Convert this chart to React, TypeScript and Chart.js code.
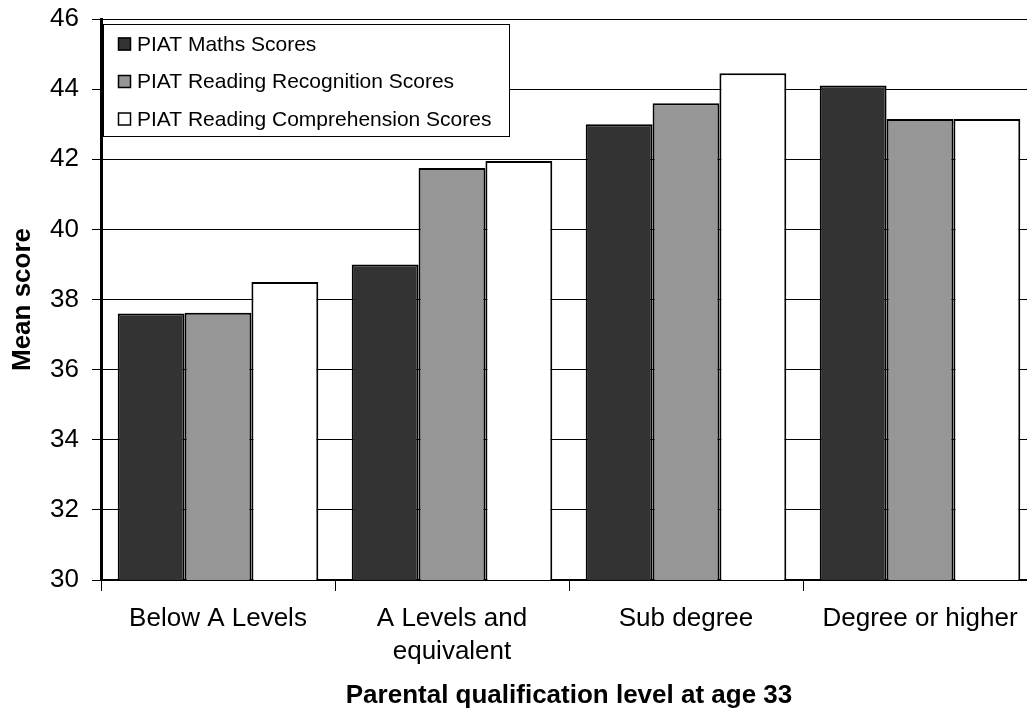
import React, { useEffect, useRef } from "react";
import { Chart, registerables } from "chart.js";

Chart.register(...registerables);

const categories: (string | string[])[] = [
  "Below A Levels",
  ["A Levels and", "equivalent"],
  "Sub degree",
  "Degree or higher",
];
const seriesNames = [
  "PIAT Maths Scores",
  "PIAT Reading Recognition Scores",
  "PIAT Reading Comprehension Scores",
];
const mathsScores = [37.6, 39.0, 43.0, 44.1];
const recognitionScores = [37.62, 41.75, 43.6, 43.15];
const comprehensionScores = [38.5, 41.95, 44.45, 43.15];
const seriesColors = ["#333333", "#969696", "#ffffff"];
const yMin = 30;
const yMax = 46;
const yStep = 2;

const FONT = "'Liberation Sans', Arial, sans-serif";

const insideLegend = {
  id: "insideLegend",
  afterDraw(chart: any) {
    const ctx = chart.ctx;
    const x0 = 103.5, y0 = 24.5, w = 406, h = 112;
    ctx.save();
    ctx.fillStyle = "#ffffff";
    ctx.fillRect(x0, y0, w, h);
    ctx.strokeStyle = "#000000";
    ctx.lineWidth = 1;
    ctx.strokeRect(x0, y0, w, h);
    ctx.font = `21px ${FONT}`;
    ctx.textBaseline = "middle";
    ctx.textAlign = "left";
    const rows = [44, 81.5, 119];
    chart.data.datasets.forEach((ds: any, i: number) => {
      const cy = rows[i];
      ctx.fillStyle = ds.backgroundColor;
      ctx.fillRect(118, cy - 6.5, 13, 13);
      ctx.lineWidth = 1.5;
      ctx.strokeStyle = "#000";
      ctx.strokeRect(118.5, cy - 6, 12, 12);
      ctx.fillStyle = "#000";
      ctx.fillText(ds.label, 137, cy + 1);
    });
    ctx.restore();
  },
};

export default function App() {
  const ref = useRef<HTMLCanvasElement | null>(null);
  useEffect(() => {
    if (!ref.current) return;
    const values = [mathsScores, recognitionScores, comprehensionScores];
    const chart = new Chart(ref.current, {
      type: "bar",
      data: {
        labels: categories,
        datasets: seriesNames.map((name, i) => ({
          label: name,
          data: values[i],
          backgroundColor: seriesColors[i],
          borderColor: "#000000",
          borderWidth: 2,
          borderSkipped: false,
          categoryPercentage: 3 / 3.5,
          barPercentage: 1,
        })),
      },
      options: {
        responsive: false,
        animation: false,
        devicePixelRatio: 1,
        layout: { autoPadding: false, padding: { top: 19, right: 8, left: 0, bottom: 0 } },
        plugins: {
          legend: { display: false },
          tooltip: { enabled: false },
        },
        scales: {
          x: {
            grid: {
              offset: true,
              drawOnChartArea: false,
              tickLength: 11,
              color: "#000",
              lineWidth: 1,
            },
            border: { color: "#000", width: 2 },
            ticks: {
              color: "#000",
              font: { family: FONT, size: 26, lineHeight: 1.27 },
              padding: 11.5,
              maxRotation: 0,
              autoSkip: false,
            },
            title: {
              display: true,
              text: "Parental qualification level at age 33",
              color: "#000",
              font: { family: FONT, size: 26, weight: "bold" },
              padding: { top: 0, bottom: 1.4 },
            },
            afterFit: (s: any) => {
              s.height = 133;
              s.paddingLeft = 0;
              s.paddingRight = 0;
            },
          },
          y: {
            min: yMin,
            max: yMax,
            grid: { color: "#000", lineWidth: 1, tickLength: 9 },
            border: { color: "#000", width: 3 },
            ticks: {
              stepSize: yStep,
              color: "#000",
              font: { family: FONT, size: 26 },
              padding: 13,
            },
            title: {
              display: true,
              text: "Mean score",
              color: "#000",
              font: { family: FONT, size: 26, weight: "bold" },
              padding: { top: 7, bottom: 0 },
            },
            afterFit: (s: any) => {
              s.width = 101;
              s.paddingTop = 0;
              s.paddingBottom = 0;
            },
          },
        },
      },
      plugins: [insideLegend],
    } as any);
    return () => chart.destroy();
  }, []);
  return (
    <div
      style={{
        position: "fixed",
        left: 0,
        top: 0,
        width: 1027,
        height: 713,
        overflow: "hidden",
        background: "#fff",
      }}
    >
      <canvas ref={ref} width={1045} height={713} style={{ display: "block" }} />
    </div>
  );
}
